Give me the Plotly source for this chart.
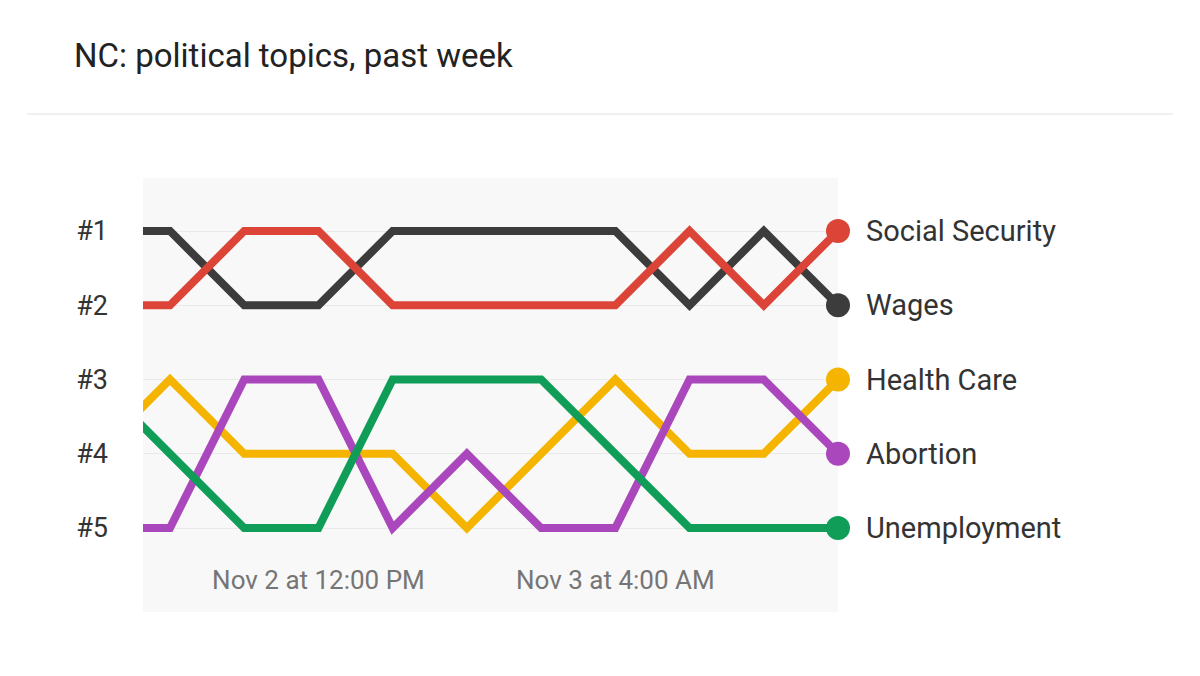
import plotly.graph_objects as go

# ---- data ----
times = ["2016-11-02 00:00", "2016-11-02 04:00", "2016-11-02 08:00", "2016-11-02 12:00",
         "2016-11-02 16:00", "2016-11-02 20:00", "2016-11-03 00:00", "2016-11-03 04:00",
         "2016-11-03 08:00", "2016-11-03 12:00", "2016-11-03 16:00"]
wages = [1, 1, 2, 2, 1, 1, 1, 1, 2, 1, 2]
social_security = [2, 2, 1, 1, 2, 2, 2, 2, 1, 2, 1]
health_care = [4, 3, 4, 4, 4, 5, 4, 3, 4, 4, 3]
abortion = [5, 5, 3, 3, 5, 4, 5, 5, 3, 3, 4]
unemployment = [3, 4, 5, 5, 3, 3, 3, 4, 5, 5, 5]

rank_vals = [1, 2, 3, 4, 5]
rank_labels = ["#1", "#2", "#3", "#4", "#5"]
x_tick_vals = ["2016-11-02 12:00", "2016-11-03 04:00"]
x_tick_text = ["Nov 2 at 12:00 PM", "Nov 3 at 4:00 AM"]

# draw order bottom -> top
series = [
    ("Wages", wages, "#3c3c3c"),
    ("Social Security", social_security, "#db4437"),
    ("Health Care", health_care, "#f4b400"),
    ("Abortion", abortion, "#ab47bc"),
    ("Unemployment", unemployment, "#0f9d58"),
]

FONT = "Roboto, Arial, sans-serif"
OFF = 8  # page body margin

fig = go.Figure()
annotations = []
for name, vals, color in series:
    n = len(vals)
    fig.add_trace(go.Scatter(
        x=times, y=vals, mode="lines+markers", name=name,
        line=dict(color=color, width=8, shape="linear"),
        marker=dict(size=[0] * (n - 1) + [24], color=color, opacity=1,
                    line=dict(width=0)),
        cliponaxis=False, showlegend=False, hoverinfo="skip",
    ))
    annotations.append(dict(
        x=times[-1], y=vals[-1], xref="x", yref="y", text=name,
        showarrow=False, xanchor="left", yanchor="middle", xshift=26,
        font=dict(family=FONT, size=29, color="#333333"),
    ))

# plot area geometry (px, page coords minus body margin)
L, R, T, B = 143 - OFF, 838 - OFF, 178 - OFF, 560 - OFF
W, H = 1200, 676
pw, ph = R - L, B - T

fig.update_layout(
    width=W, height=H, autosize=False,
    margin=dict(l=L, r=W - R, t=T, b=H - B, pad=0),
    paper_bgcolor="white",
    plot_bgcolor="#f8f8f8",
    font=dict(family=FONT),
    title=dict(
        text="NC: political topics, past week",
        x=(74 - OFF) / W, xref="container", xanchor="left",
        y=1 - (55 - OFF) / H, yref="container", yanchor="middle",
        font=dict(family=FONT, size=33, color="#222222"),
    ),
    xaxis=dict(
        range=["2016-11-02 02:32:44", "2016-11-03 16:00"],
        showgrid=False, zeroline=False, showline=False,
        tickvals=x_tick_vals, ticktext=x_tick_text,
        ticks="", ticklabelstandoff=2,
        tickfont=dict(family=FONT, size=26, color="#757575"),
    ),
    yaxis=dict(
        range=[5.431, 0.286],
        tickvals=rank_vals, ticktext=rank_labels,
        showgrid=True, gridcolor="#e9e9e9", gridwidth=1,
        zeroline=False, showline=False, ticks="",
        ticklabelstandoff=34,
        tickfont=dict(family=FONT, size=27, color="#333333"),
    ),
    annotations=annotations,
    shapes=[
        dict(type="rect", xref="paper", yref="paper", x0=0, x1=1,
             y0=(B - (612 - OFF)) / ph, y1=0, fillcolor="#f8f8f8",
             line=dict(width=0), layer="below"),
        dict(type="line", xref="paper", yref="paper",
             x0=(27 - OFF - L) / pw, x1=(1173 - OFF - L) / pw,
             y0=(B - (114 - OFF)) / ph, y1=(B - (114 - OFF)) / ph,
             line=dict(color="#e0e0e0", width=1)),
    ],
)

fig.write_html("out.html")
